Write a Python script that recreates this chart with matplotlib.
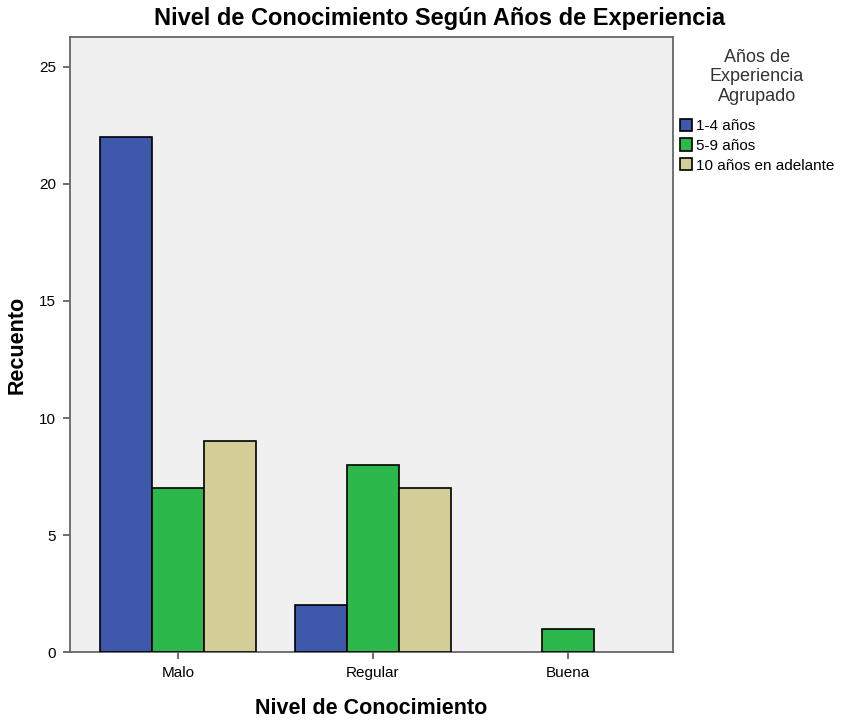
import numpy as np
import matplotlib.pyplot as plt

plt.rcParams['font.family'] = ['Liberation Sans', 'DejaVu Sans']

# Data
categorias = ['Malo', 'Regular', 'Buena']
grupos = ['1-4 años', '5-9 años', '10 años en adelante']
valores_1_4 = [22, 2, 0]
valores_5_9 = [7, 8, 1]
valores_10 = [9, 7, 0]
colores = ['#3E58AC', '#2DB84B', '#D3CE97']

fig = plt.figure(figsize=(8.43, 7.2), dpi=100)
ax = fig.add_axes([0.083, 0.0944, 0.715, 0.8542])
ax.set_facecolor('#F0F0F0')

x = np.arange(len(categorias))
w = 0.267
for i, (vals, lab, col) in enumerate(zip([valores_1_4, valores_5_9, valores_10], grupos, colores)):
    v = np.array(vals, dtype=float)
    mask = v > 0
    ax.bar(x[mask] + (i - 1) * w, v[mask], width=w, color=col, edgecolor='black',
           linewidth=1.2, label=lab, zorder=3)

ax.set_xlim(-0.554, 2.538)
ax.set_ylim(0, 26.28)
ax.set_xticks(x)
ax.set_xticklabels(categorias)
ax.set_yticks([0, 5, 10, 15, 20, 25])
ax.tick_params(axis='both', labelsize=11, length=5, width=1.2, color='#555555', pad=5)
for s in ax.spines.values():
    s.set_color('#666666')
    s.set_linewidth(1.3)

ax.set_xlabel('Nivel de Conocimiento', fontsize=15.5, fontweight='bold', labelpad=13)
ax.set_ylabel('Recuento', fontsize=15.5, fontweight='bold', labelpad=8)
fig.text(0.522, 0.974, 'Nivel de Conocimiento Según Años de Experiencia', ha='center',
         va='center', fontsize=17, fontweight='bold')

leg = ax.legend(title='Años de\nExperiencia\nAgrupado', loc='upper left',
                bbox_to_anchor=(0.991, 1.0), frameon=False, fontsize=11,
                title_fontsize=13, handlelength=0.85, handleheight=0.85,
                handletextpad=0.25, labelspacing=0.36, borderpad=0.3)
leg.get_title().set_multialignment('center')
leg.get_title().set_linespacing(1.17)
leg.get_title().set_color('#333333')
leg._legend_box.sep = 10
for h in leg.legend_handles:
    h.set_edgecolor('black')

plt.savefig('out.png', dpi=100)
